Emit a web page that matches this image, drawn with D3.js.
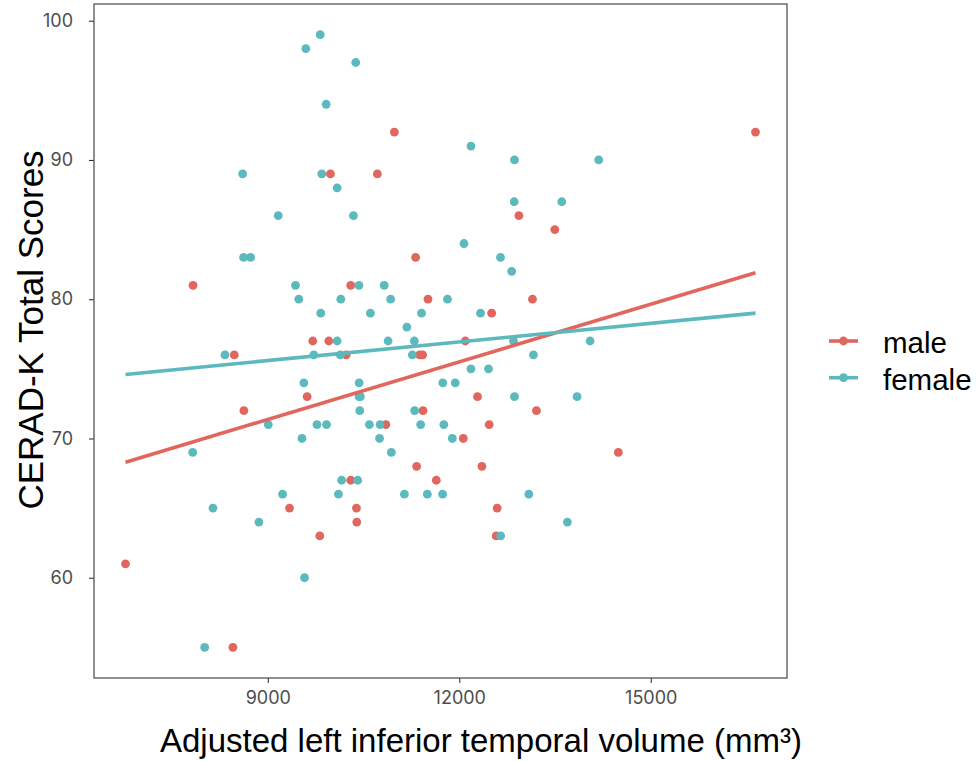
<!DOCTYPE html>
<html>
<head>
<meta charset="utf-8">
<script src="https://cdn.jsdelivr.net/npm/d3@7"></script>
<style>
  body { margin: 0; background: #ffffff; }
  .tick text { font-family: Inter, Lato, sans-serif; }
</style>
</head>
<body>
<div id="container"></div>
<script>
/* DATA */
const groups = ["male", "female"];

const maleVolume = [16641, 9982, 10717, 10983, 12934, 13497, 11316, 7829, 10300, 11510,
  13147, 12508, 9705, 9956, 12094, 8475, 10228, 11379, 11426, 9617,
  12286, 8626, 11432, 13209, 10850, 12469, 12063, 14492, 11332, 12355,
  10300, 11640, 9341, 10389, 12594, 10394, 9815, 12579, 6771, 8454];
const maleScore = [92, 89, 89, 92, 86, 85, 83, 81, 81, 80,
  80, 79, 77, 77, 77, 76, 76, 76, 76, 73,
  73, 72, 72, 72, 71, 71, 70, 69, 68, 68,
  67, 67, 65, 65, 65, 64, 63, 63, 61, 55];

const femaleVolume = [9821, 9596, 10378, 9915, 12183, 12865, 14185, 8606, 9846, 10087,
  12860, 13606, 9164, 10342, 12074, 8621, 8731, 12646, 12821, 9435,
  10428, 10824, 9486, 10144, 10925, 11815, 9830, 10608, 11409, 12333,
  11179, 10087, 10885, 11296, 12849, 14049, 8329, 9721, 10136, 11265,
  13162, 12183, 12458, 9565, 10431, 11742, 11937, 10431, 10451, 12865,
  13846, 10441, 11301, 9008, 9771, 9920, 10592, 10760, 11395, 11758,
  9536, 10751, 11891, 7824, 10936, 10157, 10409, 9232, 10107, 11140,
  11499, 11739, 13090, 8141, 8861, 13694, 12649, 9576, 8011];
const femaleScore = [99, 98, 97, 94, 91, 90, 90, 89, 89, 88,
  87, 87, 86, 86, 84, 83, 83, 83, 82, 81,
  81, 81, 80, 80, 80, 80, 79, 79, 79, 79,
  78, 77, 77, 77, 77, 77, 76, 76, 76, 76,
  76, 75, 75, 74, 74, 74, 74, 73, 73, 73,
  73, 72, 72, 71, 71, 71, 71, 71, 71, 71,
  70, 70, 70, 69, 69, 67, 67, 66, 66, 66,
  66, 66, 66, 65, 64, 64, 63, 60, 55];

// fitted line values at the ends of the volume range
const maleFit = [68.3, 81.9];
const femaleFit = [74.6, 79.0];

const xTicks = [9000, 12000, 15000];
const yTicks = [60, 70, 80, 90, 100];

/* CONSTANTS AND GLOBALS */
const W = 976, H = 761;
const panel = { left: 94, top: 4, right: 787, bottom: 678 };
const colors = { male: "#E0665E", female: "#5CB9BE" };

const points = [];
maleVolume.forEach((v, i) => points.push({ g: "male", x: v, y: maleScore[i] }));
femaleVolume.forEach((v, i) => points.push({ g: "female", x: v, y: femaleScore[i] }));

const xExt = d3.extent(points, d => d.x);
const yExt = d3.extent(points, d => d.y);
const xPad = (xExt[1] - xExt[0]) * 0.05;
const yPad = (yExt[1] - yExt[0]) * 0.05;

const svg = d3.select("#container")
  .append("svg")
  .attr("width", W)
  .attr("height", H)
  .style("background-color", "#ffffff");

/* SCALES */
const xScale = d3.scaleLinear()
  .domain([xExt[0] - xPad, xExt[1] + xPad])
  .range([panel.left, panel.right]);

const yScale = d3.scaleLinear()
  .domain([yExt[0] - yPad, yExt[1] + yPad])
  .range([panel.bottom, panel.top]);

const colorScale = d3.scaleOrdinal()
  .domain(groups)
  .range([colors.male, colors.female]);

/* AXES */
const xAxis = svg.append("g")
  .attr("transform", `translate(0,${panel.bottom})`)
  .call(d3.axisBottom(xScale).tickValues(xTicks).tickSize(5).tickPadding(8).tickFormat(d3.format("d")));

const yAxis = svg.append("g")
  .attr("transform", `translate(${panel.left},0)`)
  .call(d3.axisLeft(yScale).tickValues(yTicks).tickSize(5).tickPadding(16));

[xAxis, yAxis].forEach(a => {
  a.select(".domain").remove();
  a.selectAll(".tick line").attr("stroke", "#333333").attr("stroke-width", 1.1);
  a.selectAll(".tick text").attr("fill", "#4d4d4d").style("font-size", "18px");
});

/* POINTS */
svg.append("g")
  .selectAll("circle")
  .data(points)
  .join("circle")
  .attr("cx", d => xScale(d.x))
  .attr("cy", d => yScale(d.y))
  .attr("r", 4.4)
  .attr("fill", d => colorScale(d.g));

/* FIT LINES */
const fits = [
  { g: "male", v: maleFit },
  { g: "female", v: femaleFit }
];
svg.append("g")
  .selectAll("line")
  .data(fits)
  .join("line")
  .attr("x1", xScale(xExt[0]))
  .attr("x2", xScale(xExt[1]))
  .attr("y1", d => yScale(d.v[0]))
  .attr("y2", d => yScale(d.v[1]))
  .attr("stroke", d => colorScale(d.g))
  .attr("stroke-width", 3.6);

/* PANEL BORDER */
svg.append("rect")
  .attr("x", panel.left)
  .attr("y", panel.top)
  .attr("width", panel.right - panel.left)
  .attr("height", panel.bottom - panel.top)
  .attr("fill", "none")
  .attr("stroke", "#555555")
  .attr("stroke-width", 1.3);

/* AXIS TITLES */
svg.append("text")
  .attr("x", 160)
  .attr("y", 752)
  .style("font-family", "'Liberation Sans', Arial, sans-serif")
  .style("font-size", "33px")
  .text("Adjusted left inferior temporal volume (mm³)");

svg.append("text")
  .attr("transform", "translate(43,330) rotate(-90)")
  .attr("text-anchor", "middle")
  .style("font-family", "'Liberation Sans', Arial, sans-serif")
  .style("font-size", "35px")
  .text("CERAD-K Total Scores");

/* LEGEND */
const legend = svg.append("g")
  .selectAll("g")
  .data(groups)
  .join("g")
  .attr("transform", (d, i) => `translate(829,${341 + i * 36.7})`);

legend.append("line")
  .attr("x1", 0)
  .attr("x2", 29)
  .attr("stroke", d => colorScale(d))
  .attr("stroke-width", 3.6);

legend.append("circle")
  .attr("cx", 14.5)
  .attr("r", 4.4)
  .attr("fill", d => colorScale(d));

legend.append("text")
  .attr("x", 54)
  .attr("y", 12)
  .style("font-family", "'Liberation Sans', Arial, sans-serif")
  .style("font-size", "29.5px")
  .text(d => d);
</script>
</body>
</html>
